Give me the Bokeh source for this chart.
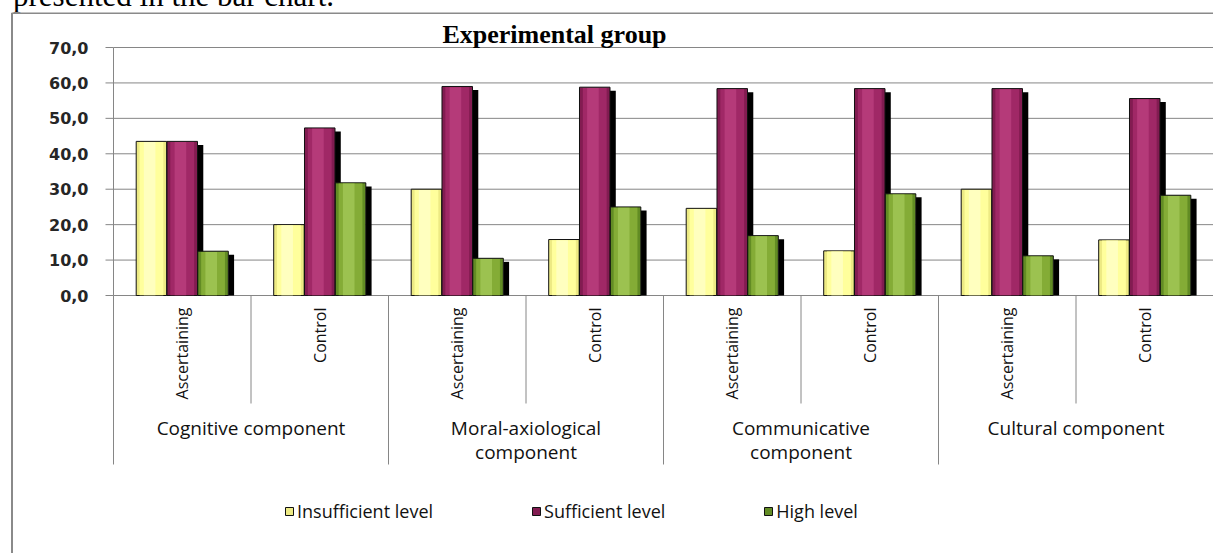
import numpy as np
from bokeh.plotting import figure
from bokeh.models import Range1d, ColumnDataSource, Legend, LegendItem, Div
from bokeh.layouts import column
from bokeh.core.properties import value
from bokeh.embed import file_html
from bokeh.resources import INLINE

# ---------------- data ----------------
groups = ["Cognitive component", "Moral-axiological\ncomponent",
          "Communicative\ncomponent", "Cultural component"]
stages = ["Ascertaining", "Control", "Ascertaining", "Control",
          "Ascertaining", "Control", "Ascertaining", "Control"]
series_names = ["Insufficient level", "Sufficient level", "High level"]
insufficient = [43.5, 20.0, 30.0, 15.8, 24.6, 12.6, 30.0, 15.7]
sufficient = [43.5, 47.3, 59.0, 58.8, 58.4, 58.4, 58.4, 55.6]
high = [12.5, 31.8, 10.5, 25.0, 16.9, 28.7, 11.2, 28.3]
y_ticks = [0, 10, 20, 30, 40, 50, 60, 70]
y_tick_labels = ["0,0", "10,0", "20,0", "30,0", "40,0", "50,0", "60,0", "70,0"]
title_text = "Experimental group"
fragment_text = "presented in the bar chart."

# ---------------- layout helpers (pixel -> data) ----------------
W, H = 1213, 541
PX0, PY0 = 1, 10           # page position of the canvas (measured)
X0_PAGE, SX = 114, 137.5   # page x of category 0, px per sub-category
Y0_PAGE, SY = 293, 248.0 / 70.0


def dx(px):
    return (px - X0_PAGE) / SX


def dy(py):
    return (Y0_PAGE - py) / SY


n_sub = len(stages)

p = figure(width=W, height=H,
           x_range=Range1d(dx(PX0), dx(PX0 + W)),
           y_range=Range1d(dy(PY0 + H), dy(PY0)),
           x_axis_type=None, y_axis_type=None,
           toolbar_location=None, output_backend="svg",
           min_border=0, outline_line_color=None,
           background_fill_color="white", border_fill_color="white")

GRID = "#868686"

# outer frame (top and left)
p.segment(x0=[dx(12), dx(12.5)], x1=[dx(PX0 + W + 5), dx(12.5)],
          y0=[dy(10.5), dy(10.5)], y1=[dy(10.5), dy(PY0 + H + 5)],
          line_color="#8a8a8a", line_width=2)

# gridlines
p.segment(x0=0, x1=n_sub, y0=y_ticks, y1=y_ticks, line_color=GRID, line_width=1)
# tick marks
p.segment(x0=dx(106), x1=0, y0=y_ticks, y1=y_ticks, line_color=GRID, line_width=1)
# y-axis line
p.segment(x0=[0], x1=[0], y0=[max(y_ticks)], y1=[0], line_color=GRID, line_width=1)

# category separators
short_x = [i for i in range(1, n_sub, 2)]
long_x = [i for i in range(0, n_sub + 1, 2)]
p.segment(x0=short_x, x1=short_x, y0=0, y1=dy(401), line_color=GRID, line_width=1)
p.segment(x0=long_x, x1=long_x, y0=0, y1=dy(462), line_color=GRID, line_width=1)

# y tick labels
p.text(x=dx(89), y=y_ticks, text=y_tick_labels, text_align="right",
       text_baseline="middle", text_font=value("DejaVu Sans"),
       text_font_style="bold", text_font_size="16px", text_color="#262626")

# title
p.text(x=[dx(555)], y=[dy(31.5)], text=[title_text], text_align="center",
       text_baseline="middle", text_font=value("Liberation Serif"),
       text_font_style="bold", text_font_size="26px", text_color="#000000")

# ---------------- bars ----------------
series = [insufficient, sufficient, high]
OFF, BW = 0.224, 0.222
SH_W, SH_DROP = 0.042, 1.0
palettes = [
    ("#EDEA84", "#FFFF9C", "#FFFFC8"),
    ("#821C51", "#A02866", "#BA3F7E"),
    ("#628C24", "#84AC36", "#A2C857"),
]

# shadows first
for s, vals in enumerate(series):
    xs = [i + 0.5 + (s - 1) * OFF for i in range(n_sub)]
    src = ColumnDataSource(dict(
        left=[x + BW / 2 for x in xs],
        right=[x + BW / 2 + SH_W for x in xs],
        top=[v - SH_DROP for v in vals]))
    p.quad(left="left", right="right", top="top", bottom=0, source=src,
           fill_color="#000000", line_color=None)

base_renderers = []
for s, vals in enumerate(series):
    xs = [i + 0.5 + (s - 1) * OFF for i in range(n_sub)]
    base, mid, light = palettes[s]
    src = ColumnDataSource(dict(x=xs, top=vals,
                                top_in=[v - 0.2 for v in vals],
                                x_hi=[x - BW * 0.06 for x in xs]))
    r = p.vbar(x="x", top="top", width=BW, bottom=0, source=src,
               fill_color=base, line_color="#111111", line_width=1)
    base_renderers.append(r)
    p.vbar(x="x", top="top_in", width=BW * 0.78, bottom=0.05, source=src,
           fill_color=mid, line_color=None)
    p.vbar(x="x_hi", top="top_in", width=BW * 0.38, bottom=0.05, source=src,
           fill_color=light, line_color=None, fill_alpha=0.8)

# ---------------- category labels ----------------
sub_src = ColumnDataSource(dict(x=[i + 0.5 for i in range(n_sub)], text=stages))
p.text(x="x", y=dy(305), text="text", source=sub_src, angle=np.pi / 2,
       text_align="right", text_baseline="middle",
       text_font=value("Open Sans"), text_font_size="16px", text_color="#111111")

grp_src = ColumnDataSource(dict(x=[2 * g + 1 for g in range(len(groups))], text=groups))
p.text(x="x", y=dy(412), text="text", source=grp_src, text_align="center",
       text_baseline="top", text_font=value("Open Sans"), text_font_size="19px",
       text_color="#111111", text_line_height=0.95)

# ---------------- legend ----------------
legend = Legend(items=[LegendItem(label=series_names[s], renderers=[base_renderers[s]])
                       for s in range(3)],
                orientation="horizontal", location=(285 - PX0, 30),
                glyph_width=10, glyph_height=10, label_standoff=3, spacing=98,
                padding=0, margin=0, border_line_color=None,
                background_fill_alpha=0.0,
                label_text_font="Open Sans", label_text_font_size="18px",
                label_text_color="#111111")
p.add_layout(legend)

# ---------------- cut-off text fragment above the chart ----------------
frag = Div(text=('<div style="position:relative; top:-25px; left:8px; '
                 'font-family:\'Liberation Serif\'; font-size:31px; line-height:31px; '
                 'white-space:nowrap; color:#000;">' + fragment_text + '</div>'),
           width=W, height=2, styles={"overflow": "visible"})

layout = column(frag, p, spacing=0)

open("out.html", "w").write(file_html(layout, INLINE))
